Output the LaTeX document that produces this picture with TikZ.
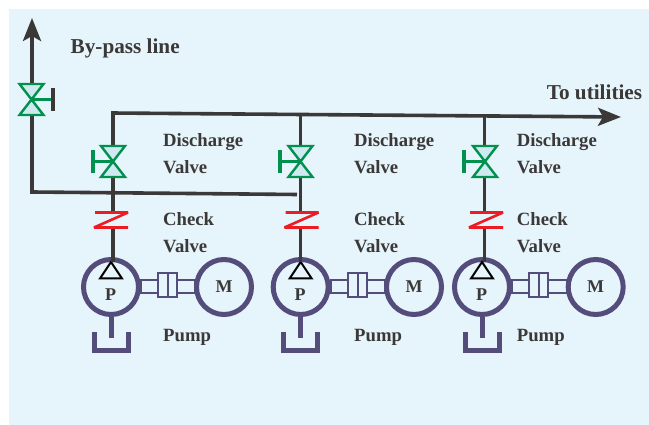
\documentclass[tikz,border=0pt]{standalone}
\usepackage{fontspec}
\setmainfont{Liberation Serif}
\usetikzlibrary{arrows.meta}
\definecolor{bgblue}{HTML}{E6F4FB}
\definecolor{ink}{HTML}{3B3838}
\definecolor{pumppurple}{HTML}{544D7B}
\definecolor{valvegreen}{HTML}{00914F}
\definecolor{valvefill}{HTML}{CFE9F0}
\definecolor{checkred}{HTML}{ED1C24}
\tikzset{
  pipe/.style={draw=ink,line width=3.6pt},
  valvebody/.style={draw=valvegreen,fill=valvefill,line width=2.4pt,line join=miter},
  valvestem/.style={draw=valvegreen,line width=2.4pt},
  wheelgreen/.style={draw=valvegreen,line width=3.6pt},
  wheeldark/.style={draw=ink,line width=3.6pt},
  checkz/.style={draw=checkred,line width=2.6pt,line join=bevel},
  rotor/.style={circle,draw=pumppurple,line width=5pt,minimum size=55pt,inner sep=0pt,font=\fontsize{18}{18}\selectfont\bfseries,text=ink},
  shaft/.style={draw=pumppurple,line width=1.8pt},
  suction/.style={draw=pumppurple,line width=5pt},
  impeller/.style={draw=black,line width=2pt,line join=miter},
  lbl/.style={anchor=base west,inner sep=0pt,text=ink,font=\fontsize{18.7}{18.7}\selectfont\bfseries},
  biglbl/.style={anchor=base west,inner sep=0pt,text=ink,font=\fontsize{21.2}{21.2}\selectfont\bfseries},
  plabel/.style={anchor=base,inner sep=0pt,text=ink,font=\fontsize{18}{18}\selectfont\bfseries},
  flow/.style={-{Stealth[length=23pt,width=18pt,inset=5pt]}},
}
\begin{document}
\begin{tikzpicture}[x=1pt,y=-1pt]
\useasboundingbox (0,0) rectangle (649,425);
\fill[bgblue] (9,9) rectangle (649,425);

% header, by-pass
\coordinate (bpcorner) at (32,192);
\coordinate (bpend) at (297,194.5);
\coordinate (bptip) at (32,18);
\coordinate (bpvt) at (32,83);
\coordinate (bpvb) at (32,116);
\coordinate (hdrstart) at (111.2,113);
\coordinate (hdrtip) at (621,117);
\draw[pipe,line join=miter] (bpvb) -- (bpcorner) -- (bpend);
\draw[pipe,flow] (bpvt) -- (bptip);
\draw[pipe,flow] (hdrstart) -- (hdrtip);

% by-pass valve
\coordinate (bpv) at (31.5,99.5);
\draw[valvebody] (bpv) -- (19.5,84) -- (43.5,84) -- cycle;
\draw[valvebody] (bpv) -- (19.5,115) -- (43.5,115) -- cycle;
\coordinate (bpwheel) at (53,99.5);
\draw[valvestem] (bpv) -- (bpwheel);
\draw[wheeldark] (53,88) -- (53,111);

% three pump trains:  pipe x / valve x / wheel x / header y / check x / pump x / motor x / label x / suffix
\foreach \pipex/\valx/\whx/\hy/\zx/\px/\mx/\lx/\n in {
   113/113/93/113/111/111/224/163/a,
   300.5/300.5/280/115/301.5/300.7/414/354/b,
   484.5/485/464/116/486/482/595.7/516.7/c}{
  % coupling and pump bodies
  \node[rotor] (pump\n) at (\px,287) {};
  \node[rotor] (motor\n) at (\mx,287) {M};
  \draw[shaft] ({\px+30},280) rectangle ({\px+47},293);
  \draw[shaft] ({\px+66},280) rectangle ({\mx-29},293);
  \draw[shaft] ({\px+47},273) rectangle ({\px+66},297);
  \draw[shaft] ({\px+57},273) -- ({\px+57},297);
  % impeller
  \draw[impeller] (\px,262) -- ({\px-11},278.5) -- ({\px+11},278.5) -- cycle;
  \node[plabel] (plab\n) at ({\px-0.5},300.7) {P};
  % suction
  \coordinate (tray\n) at (\px,338);
  \draw[suction] (pump\n.south) -- (tray\n);
  \draw[suction,line join=miter] ({\px-17},332) -- ({\px-17},350.5) -- ({\px+17},350.5) -- ({\px+17},332);
  % pipes
  \coordinate (hdr\n) at (\pipex,\hy);
  \coordinate (vt\n) at (\pipex,146);
  \coordinate (vb\n) at (\pipex,177);
  \coordinate (zt\n) at (\pipex,211);
  \coordinate (zb\n) at (\pipex,229);
  \coordinate (pt\n) at (\pipex,262);
  \draw[pipe] (hdr\n) -- (vt\n);
  \draw[pipe] (vb\n) -- (zt\n);
  \draw[pipe] (zb\n) -- (pt\n);
  % discharge valve
  \coordinate (val\n) at (\valx,161.5);
  \draw[valvebody] (val\n) -- ({\valx-12},146) -- ({\valx+12},146) -- cycle;
  \draw[valvebody] (val\n) -- ({\valx-12},177) -- ({\valx+12},177) -- cycle;
  \coordinate (wh\n) at (\whx,161.5);
  \draw[valvestem] (val\n) -- (wh\n);
  \draw[wheelgreen] (\whx,150) -- (\whx,173);
  % check valve
  \draw[checkz] ({\zx-16},212.5) -- ({\zx+17},212.5) -- ({\zx-17},227.5) -- ({\zx+17},227.5);
  % labels
  \node[lbl] (dis\n) at (\lx,146.8) {Discharge};
  \node[lbl] (dva\n) at (\lx,173.5) {Valve};
  \node[lbl] (che\n) at (\lx,225.8) {Check};
  \node[lbl] (cva\n) at (\lx,252.8) {Valve};
  \node[lbl] (pum\n) at (\lx,341.8) {Pump};
}
\node[biglbl] (bypass) at (70.5,53.2) {By-pass line};
\node[biglbl] (utilities) at (546.7,100) {To utilities};
\end{tikzpicture}
\end{document}
